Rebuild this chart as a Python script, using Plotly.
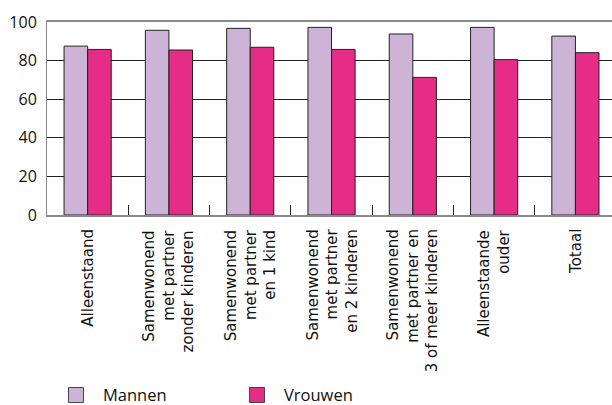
import plotly.graph_objects as go

categories = [
    "Alleenstaand",
    "Samenwonend<br>met partner<br>zonder kinderen",
    "Samenwonend<br>met partner<br>en 1 kind",
    "Samenwonend<br>met partner<br>en 2 kinderen",
    "Samenwonend<br>met partner en<br>3 of meer kinderen",
    "Alleenstaande<br>ouder",
    "Totaal",
]
mannen = [87.5, 95.7, 96.7, 97.2, 93.8, 97.2, 92.7]
vrouwen = [85.8, 85.5, 86.9, 85.8, 71.3, 80.5, 84.1]
y_ticks = [0, 20, 40, 60, 80, 100]

font_family = "Open Sans, Noto Sans, DejaVu Sans, sans-serif"
label_family = "DejaVu Sans, sans-serif"
col_m = "#CDB4D6"
col_v = "#E52D87"
edge = "#222222"

fig = go.Figure()
fig.add_trace(go.Bar(name="Mannen", x=categories, y=mannen, showlegend=False,
                     marker=dict(color=col_m, line=dict(color=edge, width=1))))
fig.add_trace(go.Bar(name="Vrouwen", x=categories, y=vrouwen, showlegend=False,
                     marker=dict(color=col_v, line=dict(color=edge, width=1))))
# legend entries (square swatches)
for name, col in (("Mannen", col_m), ("Vrouwen", col_v)):
    fig.add_trace(go.Scatter(x=[None], y=[None], mode="markers", name=name,
                             marker=dict(symbol="square", size=15, color=col,
                                         line=dict(color="#444444", width=1))))

# category labels, rotated and right-aligned (top-aligned after rotation)
for cat in categories:
    fig.add_annotation(
        x=cat, xref="x", y=0, yref="paper",
        text=cat, textangle=-90, align="right",
        xanchor="center", yanchor="top", yshift=-12,
        showarrow=False, font=dict(family=label_family, size=15, color="#111111"),
    )

fig.update_layout(
    width=612, height=405,
    margin=dict(l=47, r=0, t=22, b=190),
    barmode="group", bargap=0.42, bargroupgap=0,
    plot_bgcolor="white", paper_bgcolor="white",
    font=dict(family=font_family, size=15, color="#111111"),
    showlegend=True,
    legend=dict(orientation="h", x=0.0035, xanchor="left",
                yref="container", y=0.024, yanchor="middle",
                font=dict(size=16.5), entrywidth=122, entrywidthmode="pixels",
                itemwidth=44, bgcolor="rgba(0,0,0,0)"),
)
fig.update_xaxes(
    type="category", range=[-0.5, 6.45], automargin=False,
    showticklabels=False,
    ticks="inside", tickson="boundaries", ticklen=10, tickcolor="#222222", tickwidth=1,
    showline=True, linecolor="#8a8a8a", linewidth=2, mirror=True,
    showgrid=False,
)
fig.update_yaxes(
    range=[0, 100], tickvals=y_ticks, automargin=False,
    tickfont=dict(size=16),
    ticks="outside", ticklen=6, tickcolor="rgba(0,0,0,0)",
    showline=True, linecolor="#8a8a8a", linewidth=1,
    showgrid=True, gridcolor="#222222", gridwidth=1,
    zeroline=False,
)

fig.write_html("out.html", config={"displayModeBar": False},
               post_script="document.body.style.margin='0';")
